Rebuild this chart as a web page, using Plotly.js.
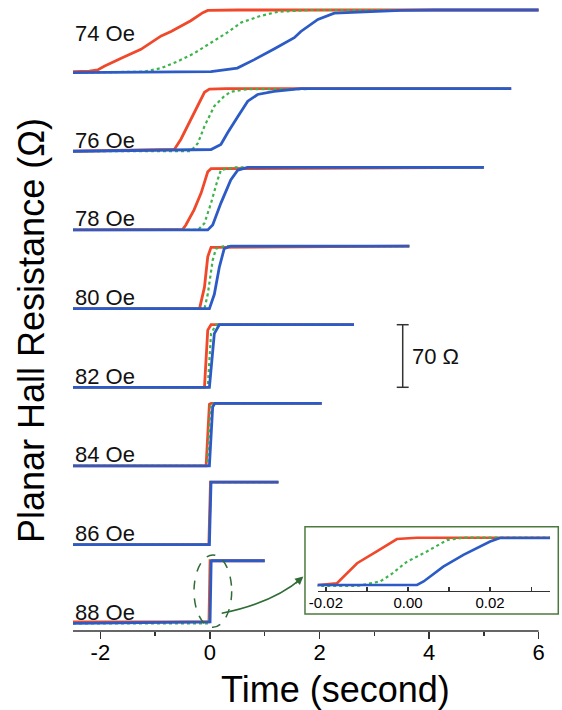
<!DOCTYPE html>
<html>
<head>
<meta charset="utf-8">
<script src="https://cdn.plot.ly/plotly-3.0.1.min.js"></script>
<style>html,body{margin:0;padding:0;background:#fff;}#chart{width:562px;height:710px;}</style>
</head>
<body>
<div id="chart"></div>
<script>
// ---- data (time in seconds, resistance change in ohm) ----
var fields = ['74 Oe', '76 Oe', '78 Oe', '80 Oe', '82 Oe', '84 Oe', '86 Oe', '88 Oe'];
var offsets = [616, 528, 440, 352, 264, 176, 88, 0];   // vertical stacking offsets (ohm)

var tRed = [
  [-2.5, -2.2, -2.05, -1.93, -1.62, -1.26, -0.89, -0.71, -0.35, -0.13, -0.04, 0.5, 6.0],
  [-2.5, -0.65, -0.53, -0.41, -0.22, -0.10, -0.01, 0.3, 5.5],
  [-2.5, -0.50, -0.44, -0.29, -0.16, -0.04, 0.02, 5.0],
  [-2.5, -0.19, -0.10, -0.04, 0.02, 3.64],
  [-2.5, -0.10, -0.04, 0.02, 2.63],
  [-2.5, -0.07, -0.01, 0.02, 2.04],
  [-2.5, -0.02, 0.01, 1.25],
  [-2.5, -0.0218, -0.0173, -0.0124, -0.0076, -0.0027, 0.0022, 1.0]
];
var rRed = [
  [1, 1.5, 3, 7, 16, 26, 41, 46, 58, 67, 69.5, 70, 70],
  [0, 2, 13.5, 28, 50.5, 66, 69.5, 70, 70],
  [0, 0.5, 5.5, 22.5, 41.5, 65, 68.5, 70],
  [0, 0, 24, 58, 68.5, 70],
  [0, 0, 64, 70, 70],
  [0, 0, 69, 70, 70],
  [0, 0, 70, 70],
  [1.5, 1.5, 4, 33, 50, 68, 70, 70]
];
var tGreen = [
  [-2.5, -1.2, -0.89, -0.59, -0.29, 0.02, 0.32, 0.57, 0.93, 1.24, 1.84, 6.0],
  [-2.5, -0.35, -0.22, -0.10, 0.08, 0.26, 0.38, 0.69, 5.5],
  [-2.5, -0.22, -0.10, 0.02, 0.14, 0.20, 0.44, 5.0],
  [-2.5, -0.10, -0.04, 0.05, 0.11, 0.26, 3.64],
  [-2.5, -0.04, 0.02, 0.11, 2.63],
  [-2.5, -0.05, 0.01, 0.04, 2.04],
  [-2.5, -0.015, 0.015, 1.25],
  [-2.5, -0.0124, -0.0068, -0.0043, -0.0003, 0.0046, 0.0095, 0.0135, 1.0]
];
var rGreen = [
  [0, 1, 5, 12.5, 21.5, 33.5, 45, 56, 63.5, 68, 70, 70],
  [0, 0, 9, 28, 50.5, 61.5, 66.5, 69.5, 70],
  [0, 0, 7.5, 30, 56, 67, 70, 70],
  [0, 0, 16, 54, 67, 70, 70],
  [0, 0, 60, 70, 70],
  [0, 0, 68, 70, 70],
  [0, 0, 70, 70],
  [0, 0, 6.5, 16, 35, 50, 66.5, 70, 70]
];
var tBlue = [
  [-2.5, 0.02, 0.5, 0.81, 1.17, 1.54, 1.66, 1.97, 2.27, 2.88, 3.49, 4.09, 6.0],
  [-2.5, 0.02, 0.20, 0.32, 0.51, 0.69, 0.87, 1.17, 1.66, 5.5],
  [-2.5, -0.04, 0.05, 0.20, 0.38, 0.51, 0.69, 5.0],
  [-2.5, -0.01, 0.08, 0.17, 0.26, 0.38, 3.64],
  [-2.5, -0.01, 0.08, 0.17, 2.63],
  [-2.5, -0.01, 0.05, 0.09, 2.04],
  [-2.5, -0.01, 0.02, 1.25],
  [-2.5, 0.0022, 0.0038, 0.0086, 0.0135, 0.0200, 0.0224, 0.0346, 1.0]
];
var rBlue = [
  [0, 1, 5, 14.5, 26.5, 39, 46, 59.5, 66.5, 68, 69.5, 70, 70],
  [0, 2, 7.5, 20.5, 39, 56, 63.5, 67, 70, 70],
  [0, 0, 5.5, 30, 56, 67, 70, 70],
  [0, 0, 16, 46, 67, 70, 70],
  [0, 0, 60, 70, 70],
  [0, 0, 66, 70, 70],
  [0, 0, 70, 70],
  [0, 1.5, 6.5, 28, 45, 64.5, 69.5, 70, 70]
];
var xTicks = [-2, 0, 2, 4, 6];
var xMinorTicks = [-1, 1, 3, 5];
var insetTicks = [-0.02, 0, 0.02];
var insetTickText = ['-0.02', '0.00', '0.02'];
var insetMinorTicks = [-0.01, 0.01, 0.03];
var scaleBarOhm = 70;
var insetField = 7; // the 88 Oe curves are magnified in the inset

// ---- styling ----
var FONT = 'Liberation Sans, Arial, Helvetica, sans-serif';
var RED = '#f0482a', GREEN = '#3cb44a', BLUE = '#2c5bc6', DARKG = '#2f6b35', AX = '#333333';

function shifted(arr, off) { return arr.map(function (v) { return v + off; }); }

var traces = [];
for (var i = 0; i < fields.length; i++) {
  traces.push({x: tRed[i], y: shifted(rRed[i], offsets[i]), mode: 'lines', name: fields[i] + ' red',
    line: {color: RED, width: 2.8}, hoverinfo: 'skip', showlegend: false});
  traces.push({x: tGreen[i], y: shifted(rGreen[i], offsets[i]), mode: 'lines', name: fields[i] + ' green',
    line: {color: GREEN, width: 2.2, dash: 'dot'}, hoverinfo: 'skip', showlegend: false});
  traces.push({x: tBlue[i], y: shifted(rBlue[i], offsets[i]), mode: 'lines', name: fields[i] + ' blue',
    line: {color: BLUE, width: 2.8}, hoverinfo: 'skip', showlegend: false});
}
// inset (magnified 88 Oe)
traces.push({x: tRed[insetField], y: rRed[insetField], xaxis: 'x2', yaxis: 'y2', mode: 'lines',
  line: {color: RED, width: 2.6}, hoverinfo: 'skip', showlegend: false});
traces.push({x: tGreen[insetField], y: rGreen[insetField], xaxis: 'x2', yaxis: 'y2', mode: 'lines',
  line: {color: GREEN, width: 2.2, dash: 'dot'}, hoverinfo: 'skip', showlegend: false});
traces.push({x: tBlue[insetField], y: rBlue[insetField], xaxis: 'x2', yaxis: 'y2', mode: 'lines',
  line: {color: BLUE, width: 2.6}, hoverinfo: 'skip', showlegend: false});

var annotations = [];
for (var j = 0; j < fields.length; j++) {
  annotations.push({x: -2.5, xref: 'x', xanchor: 'left', y: offsets[j] + (j === 0 ? 44 : 12.5), yref: 'y',
    yanchor: 'middle', text: fields[j], showarrow: false, font: {family: FONT, size: 22, color: '#111'}});
}
annotations.push({x: 3.66, xref: 'x', xanchor: 'left', y: offsets[4] + scaleBarOhm / 2, yref: 'y', yanchor: 'middle',
  text: scaleBarOhm + ' Ω', showarrow: false, font: {family: FONT, size: 22, color: '#111'}});
annotations.push({x: -0.0859, xref: 'paper', y: 0.4808, yref: 'paper', xanchor: 'center', yanchor: 'middle',
  text: 'Planar Hall Resistance (Ω)', textangle: -90, showarrow: false, font: {family: FONT, size: 36, color: '#000'}});
annotations.push({x: 0.5378, xref: 'paper', y: -0.0942, yref: 'paper', xanchor: 'center', yanchor: 'middle',
  text: 'Time (second)', showarrow: false, font: {family: FONT, size: 36, color: '#000'}});
// arrow head for the curved pointer
annotations.push({x: 0.471, y: 0.0871, xref: 'paper', yref: 'paper', ax: -9, ay: 8, text: '',
  showarrow: true, arrowhead: 2, arrowsize: 1.1, arrowwidth: 1.5, arrowcolor: DARKG});

var shapes = [
  // main x axis line
  {type: 'line', xref: 'x', yref: 'paper', x0: -2.5, x1: 6, y0: 0, y1: 0, line: {color: AX, width: 1.5}},
  // 70 ohm scale bar
  {type: 'line', xref: 'x', yref: 'y', x0: 3.519, x1: 3.519, y0: offsets[4], y1: offsets[4] + scaleBarOhm, line: {color: AX, width: 1.5}},
  {type: 'line', xref: 'x', yref: 'y', x0: 3.41, x1: 3.628, y0: offsets[4], y1: offsets[4], line: {color: AX, width: 1.5}},
  {type: 'line', xref: 'x', yref: 'y', x0: 3.41, x1: 3.628, y0: offsets[4] + scaleBarOhm, y1: offsets[4] + scaleBarOhm, line: {color: AX, width: 1.5}},
  // dashed ellipse around the 88 Oe step
  {type: 'circle', xref: 'x', yref: 'y', x0: -0.291, x1: 0.397, y0: -4.5, y1: 76.4, line: {color: DARKG, width: 1.5, dash: 'dash'}},
  // curved pointer
  {type: 'path', xref: 'paper', yref: 'paper', path: 'M 0.3041 0.0283 Q 0.409 0.0447 0.468 0.0845', line: {color: DARKG, width: 1.5}},
  // inset frame
  {type: 'rect', xref: 'paper', yref: 'paper', x0: 0.4744, x1: 0.9924, y0: 0.0272, y1: 0.1666, line: {color: '#4c7a3e', width: 1.5}}
];

var layout = {
  width: 562, height: 710,
  margin: {l: 73, r: 0, t: 5, b: 79, pad: 0},
  paper_bgcolor: '#ffffff', plot_bgcolor: 'rgba(0,0,0,0)',
  showlegend: false,
  font: {family: FONT, color: '#000'},
  xaxis: {range: [-2.5, 6.427], showline: false, showgrid: false, zeroline: false,
    tickmode: 'array', tickvals: xTicks, ticktext: xTicks.map(String),
    ticks: 'outside', ticklen: 7, tickwidth: 1.5, tickcolor: AX, ticklabelstandoff: -5,
    minor: {tickmode: 'array', tickvals: xMinorTicks, ticks: 'outside', ticklen: 4, tickwidth: 1.5, tickcolor: AX},
    tickfont: {family: FONT, size: 22, color: '#000'}, fixedrange: true},
  yaxis: {range: [-8.6, 691.6], visible: false, fixedrange: true},
  xaxis2: {domain: [0.5004, 0.9755], anchor: 'y2', range: [-0.022, 0.0346],
    showline: true, linecolor: AX, linewidth: 1.5, showgrid: false, zeroline: false,
    tickmode: 'array', tickvals: insetTicks, ticktext: insetTickText,
    ticks: 'inside', ticklen: 4, tickwidth: 1.2, tickcolor: AX, ticklabelstandoff: -2,
    minor: {tickmode: 'array', tickvals: insetMinorTicks, ticks: 'inside', ticklen: 4, tickwidth: 1.2, tickcolor: AX},
    tickfont: {family: FONT, size: 15, color: '#000'}, fixedrange: true},
  yaxis2: {domain: [0.0639, 0.1666], anchor: 'x2', range: [-7.25, 85.9], visible: false, fixedrange: true},
  shapes: shapes,
  annotations: annotations
};

Plotly.newPlot('chart', traces, layout, {staticPlot: true, displayModeBar: false});
</script>
</body>
</html>
